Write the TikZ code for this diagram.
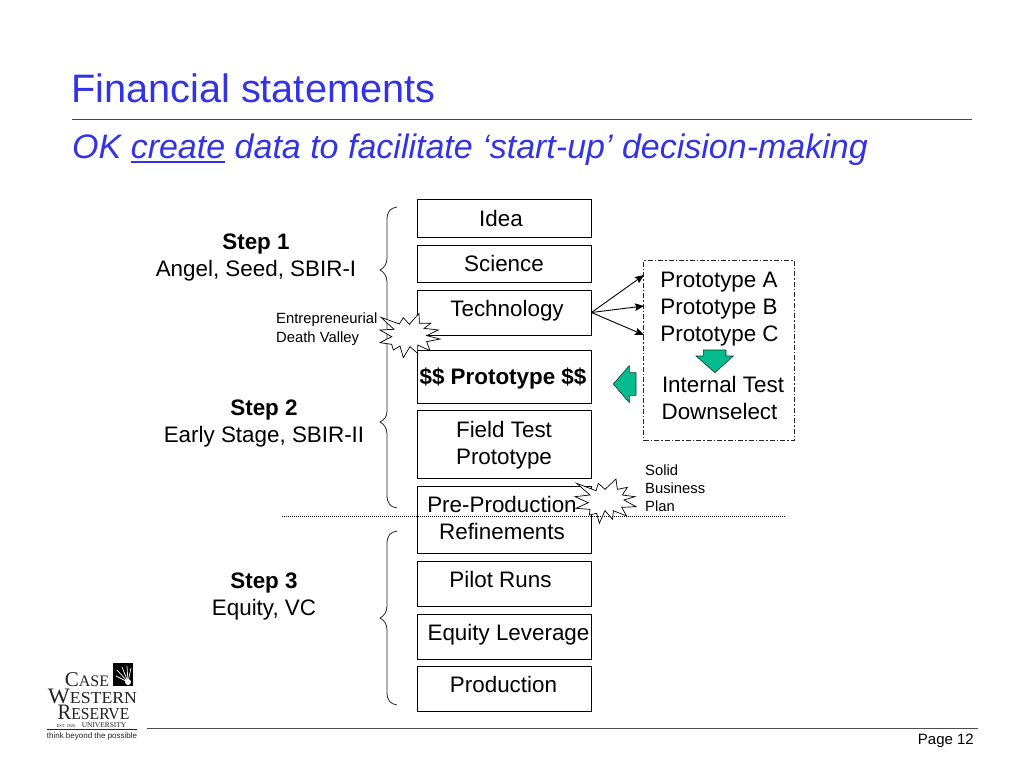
\documentclass[tikz,border=0pt]{standalone}
\usepackage{fontspec}
\setmainfont{Liberation Sans}
\newfontfamily\logoserif{Liberation Serif}
\usetikzlibrary{arrows.meta}
\definecolor{titleblue}{HTML}{3333E6}
\definecolor{ruleblue}{HTML}{3333E0}
\definecolor{teal}{HTML}{05BC8E}
\definecolor{logoink}{HTML}{222222}
\newcommand\placed[3]{\smash{\makebox[0pt]{\hspace*{#1}\raisebox{#2}{#3}}}}
\newcommand\logoline[4]{\node[logotext,anchor=base] (#1) at (#2,#3) {#4};}
\newsavebox\ulbox
\newcommand\thickunder[1]{\sbox\ulbox{#1}\rlap{\rule[-4.5pt]{\wd\ulbox}{1.8pt}}\usebox\ulbox}
\tikzset{
  bodyfont/.style={font=\fontsize{22.4}{27}\selectfont},
  smallfont/.style={font=\fontsize{14.8}{18}\selectfont},
  box/.style={draw=black,line width=0.9pt,fill=white,inner sep=0pt,bodyfont},
  lbl/.style={inner sep=0pt,bodyfont},
  smalllbl/.style={inner sep=0pt,smallfont,align=left,anchor=north west},
  brace/.style={draw=black!85,line width=0.8pt},
  burst/.style={draw=black,line width=0.7pt,fill=white,line join=miter},
  green/.style={draw=black!70!teal,line width=0.6pt,fill=teal},
  conn/.style={draw=black,line width=0.9pt,-{Stealth[length=9pt,width=7.5pt,inset=1.5pt]}},
  logotext/.style={inner sep=0pt,text=logoink,font=\logoserif},
}
\begin{document}
\begin{tikzpicture}[x=1pt,y=-1pt]
\useasboundingbox (0,0) rectangle (1024,768);
% heading
\node[inner sep=0pt,anchor=base west,text=titleblue,font=\fontsize{39.7}{44}\selectfont] (title) at (71,102) {Financial statements};
\node[inner sep=0pt,anchor=base west,text=titleblue,font=\fontsize{34}{38}\selectfont\itshape] (subtitle) at (72,158) {OK \thickunder{create} data to facilitate ‘start-up’ decision-making};
\coordinate (ruleL) at (72,119.5);
\coordinate (ruleR) at (972,119.5);
\draw[draw=ruleblue,line width=1pt] (ruleL) -- (ruleR);
% ladder
\node[box,minimum width=174pt,minimum height=38pt] (idea) at (504,218) {\placed{-6pt}{-8pt}{Idea}};
\node[box,minimum width=174pt,minimum height=37pt] (science) at (504,263.5) {\placed{0pt}{-8pt}{Science}};
\node[box,minimum width=174pt,minimum height=45pt] (tech) at (504,312.5) {\placed{6pt}{-4pt}{Technology}};
\node[box,minimum width=174pt,minimum height=53pt] (proto) at (504,376.5) {\placed{-2pt}{-8pt}{\bfseries \$\$ Prototype \$\$}};
\node[box,minimum width=174pt,minimum height=68pt] (field) at (504,444) {\placed{0pt}{7pt}{Field Test}\placed{0pt}{-20pt}{Prototype}};
\node[box,minimum width=174pt,minimum height=67pt] (preprod) at (504,519.5) {\placed{-4pt}{7pt}{Pre-Production}\placed{-4pt}{-20pt}{Refinements}};
\node[box,minimum width=174pt,minimum height=45pt] (pilot) at (504,583.5) {\placed{-7pt}{-4pt}{Pilot Runs}};
\node[box,minimum width=174pt,minimum height=45pt] (equity) at (504,636.5) {\placed{9pt}{-4pt}{Equity Leverage}};
\node[box,minimum width=174pt,minimum height=45pt] (production) at (504,688.5) {\placed{-1pt}{-4pt}{Production}};
% left labels
\node[lbl] (step1) at (256,262) {\placed{0pt}{13pt}{\bfseries Step 1}\placed{0pt}{-14pt}{Angel, Seed, SBIR-I}};
\node[lbl] (step2) at (264,428) {\placed{0pt}{13pt}{\bfseries Step 2}\placed{0pt}{-14pt}{Early Stage, SBIR-II}};
\node[lbl] (step3) at (264,601) {\placed{0pt}{13pt}{\bfseries Step 3}\placed{0pt}{-14pt}{Equity, VC}};
% braces
\draw[brace] (397,207) .. controls (390,208) and (387,212) .. (387,220) -- (387,258)
  .. controls (387,264) and (384,268) .. (380,270) .. controls (384,272) and (387,276) .. (387,282)
  -- (387,411) .. controls (387,417) and (384,420) .. (380,422) .. controls (384,424) and (387,428) .. (387,434)
  -- (387,495) .. controls (387,503) and (390,507) .. (397,508);
\draw[brace] (397,531) .. controls (390,532) and (387,536) .. (387,544) -- (387,606)
  .. controls (387,612) and (384,616) .. (380,618) .. controls (384,620) and (387,624) .. (387,630)
  -- (387,692) .. controls (387,700) and (390,704) .. (397,705);
% prototype panel
\node[draw=black!85,line width=0.9pt,dash pattern=on 5pt off 2pt on 1.5pt off 2pt,minimum width=150.5pt,minimum height=180.5pt,inner sep=0pt] (panel) at (719,350.5) {};
\node[lbl] (protos) at (719,314) {\placed{0pt}{27pt}{Prototype A}\placed{0pt}{0pt}{Prototype B}\placed{1pt}{-27pt}{Prototype C}};
\node[lbl] (internal) at (719,405) {\placed{8pt}{13pt}{Internal Test}\placed{1pt}{-14pt}{Downselect}};
\coordinate (toA) at (644,275);
\coordinate (toB) at (644,306);
\coordinate (toC) at (644,335);
\draw[conn] (tech.east) -- (toA);
\draw[conn] (tech.east) -- (toB);
\draw[conn] (tech.east) -- (toC);
% block arrows
\begin{scope}[shift={(570,250)},scale=1/3]
\draw[green] (400,300) -- (468,300) -- (468,318) -- (490,318) -- (435,368) -- (378,318) -- (400,318) -- cycle;
\draw[green] (198,368) -- (198,436) -- (178,436) -- (178,458) -- (130,402) -- (178,347) -- (178,368) -- cycle;
\end{scope}
% bursts
\begin{scope}[shift={(270,190)},scale=1/3]
\draw[burst] (333,382) -- (388,402) -- (400,383) -- (418,403) -- (447,370) -- (448,400) -- (482,400) -- (462,415) -- (505,420) -- (470,437) -- (510,447) -- (470,455) -- (480,482) -- (443,465) -- (443,490) -- (420,470) -- (400,503) -- (390,468) -- (370,480) -- (365,463) -- (330,458) -- (365,440) -- (330,420) -- (372,418) -- cycle;
\end{scope}
\begin{scope}[shift={(370,400)},scale=1/3]
\draw[burst] (620,250) -- (678,272) -- (685,250) -- (705,268) -- (738,237) -- (742,268) -- (772,262) -- (757,285) -- (795,290) -- (762,300) -- (798,320) -- (755,322) -- (770,348) -- (730,332) -- (728,358) -- (705,332) -- (688,370) -- (680,340) -- (658,345) -- (660,328) -- (618,325) -- (655,308) -- (615,290) -- (660,285) -- cycle;
\end{scope}
% small labels
\node[smalllbl,font=\fontsize{14.8}{19}\selectfont] (valley) at (276,313) {Entrepreneurial\\Death Valley};
\node[smalllbl] (plan) at (645,464.5) {Solid\\Business\\Plan};
% dotted divider
\coordinate (divL) at (282,516.5);
\coordinate (divR) at (786,516.5);
\draw[black,line width=0.7pt,dash pattern=on 1pt off 1pt] (divL) -- (divR);
% footer
\coordinate (footL) at (147,728);
\coordinate (footR) at (978,728);
\draw[black!70,line width=1pt] (footL) -- (footR);
\node[inner sep=0pt,anchor=base east,font=\fontsize{15}{18}\selectfont] (page) at (974,744) {Page 12};
% logo
\fill[black] (113,663) rectangle (133,686);
\begin{scope}[white,line width=0.7pt]
\draw (128,682) -- (116,676);
\draw (128,682) -- (117,670);
\draw (128,682) -- (122,667);
\draw (128,682) -- (127,666);
\draw (128,682) -- (131,668);
\fill (128,682) circle (3pt);
\end{scope}
\logoline{lcase}{87}{686}{{\fontsize{21}{21}\selectfont C}{\fontsize{16}{16}\selectfont ASE}}
\logoline{lwestern}{92.5}{703}{\scalebox{1.11}[1.05]{{\fontsize{21}{21}\selectfont W}{\fontsize{16}{16}\selectfont ESTERN}}}
\logoline{lreserve}{93.5}{719.5}{\scalebox{0.98}[1.05]{{\fontsize{21}{21}\selectfont R}{\fontsize{16}{16}\selectfont ESERVE}}}
\logoline{lest}{66}{727.5}{\fontsize{4.5}{5}\selectfont EST. 1826}
\logoline{luniv}{104}{727.5}{\fontsize{7.4}{8}\selectfont UNIVERSITY}
\coordinate (logoL) at (47,729);
\coordinate (logoR) at (137,729);
\draw[logoink,line width=0.6pt] (logoL) -- (logoR);
\node[inner sep=0pt,anchor=base,text=logoink,font=\fontsize{8}{10}\selectfont] (tagline) at (92,738) {think beyond the possible};
\end{tikzpicture}
\end{document}
